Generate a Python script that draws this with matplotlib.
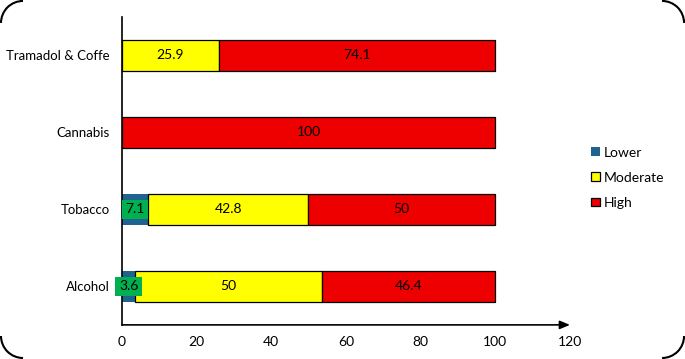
import numpy as np
import matplotlib
matplotlib.use("Agg")
import matplotlib.pyplot as plt
from matplotlib.patches import Arc
from matplotlib.transforms import IdentityTransform

# Data
categories = ["Alcohol", "Tobacco", "Cannabis", "Tramadol & Coffe"]
lower = [3.6, 7.1, 0, 0]
moderate = [50, 42.8, 0, 25.9]
high = [46.4, 50, 100, 74.1]
xticks = [0, 20, 40, 60, 80, 100, 120]

plt.rcParams['font.family'] = ['Lato', 'DejaVu Sans']

# small offset so the pixel size does not round down to 684x358
fig = plt.figure(figsize=(6.8505, 3.5905), dpi=100)
ax = fig.add_axes([0.178, 0.095, 0.654, 0.858])

y = np.arange(len(categories))
h = 0.4
c_low, c_mod, c_high = "#1F6391", "#FFFF00", "#EE0000"

b1 = ax.barh(y, lower, height=h, color=c_low, label="Lower", zorder=2)
b2 = ax.barh(y, moderate, left=lower, height=h, color=c_mod,
             edgecolor="black", lw=0.9, label="Moderate", zorder=2)
left_high = np.array(lower) + np.array(moderate)
b3 = ax.barh(y, high, left=left_high, height=h, color=c_high,
             edgecolor="black", lw=0.9, label="High", zorder=2)

# value labels
for i in range(len(categories)):
    if lower[i] > 0:
        ax.text(lower[i] / 2., y[i], "%.1f" % lower[i], ha="center", va="center",
                fontsize=10, zorder=4,
                bbox=dict(boxstyle="square,pad=0.25", fc="#00B050", ec="none"))
    if moderate[i] > 0:
        ax.text(lower[i] + moderate[i] / 2., y[i], "%g" % moderate[i],
                ha="center", va="center", fontsize=10, zorder=4)
    if high[i] > 0:
        ax.text(left_high[i] + high[i] / 2., y[i], "%g" % high[i],
                ha="center", va="center", fontsize=10, zorder=4)

ax.set_xlim(0, 120)
ax.set_ylim(-0.5, 3.5)
ax.set_yticks(y)
ax.set_yticklabels(categories, fontsize=9.5)
ax.set_xticks(xticks)
ax.set_xticklabels([str(t) for t in xticks], fontsize=10)
ax.tick_params(axis="both", length=0, pad=8)
ax.tick_params(axis="y", pad=9)
for s in ["top", "right", "bottom"]:
    ax.spines[s].set_visible(False)
ax.spines["left"].set_linewidth(1.2)
ax.annotate("", xy=(1.0, 0), xytext=(0, 0), xycoords="axes fraction",
            arrowprops=dict(arrowstyle="-|>,head_length=0.6,head_width=0.25",
                            color="black", lw=1.2, shrinkA=0, shrinkB=0))

leg = fig.legend(handles=[b1, b2, b3], loc="center left",
                 bbox_to_anchor=(0.845, 0.505), frameon=False, fontsize=10,
                 handlelength=0.6, handleheight=0.6, handletextpad=0.3,
                 labelspacing=0.95)

# rounded outer frame: only the four corner arcs show inside the canvas
W, H = fig.bbox.width, fig.bbox.height
r = 22
off = 1.0
corners = [(off + r, H - off - r, 90, 180), (W - off - r, H - off - r, 0, 90),
           (off + r, off + r, 180, 270), (W - off - r, off + r, 270, 360)]
for cx, cy, t1, t2 in corners:
    fig.patches.append(Arc((cx, cy), 2 * r, 2 * r, theta1=t1, theta2=t2,
                           transform=IdentityTransform(), color="black", lw=1.5))

fig.savefig("out.png", dpi=100)
